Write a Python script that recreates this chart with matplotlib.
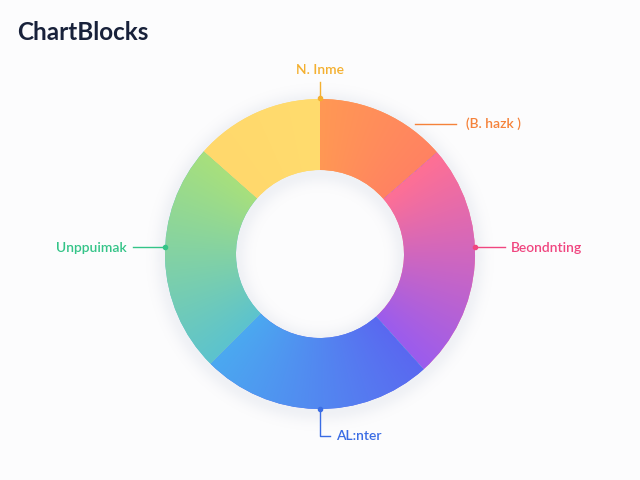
# Кольцевая диаграмма с градиентной заливкой сегментов

import numpy as np
import matplotlib.pyplot as plt
from matplotlib.colors import to_rgb

plt.rcParams['font.family'] = ['Lato', 'DejaVu Sans']

# Данные: сегменты по часовой стрелке, начиная сверху
segments = ['(B. hazk )', 'Beondnting', 'AL:nter', 'Unppuimak', 'N. Inme']
values = [49, 89, 87, 86.5, 48.5]
grad_start = ['#FF9854', '#FF7094', '#5A68F0', '#5CC3CE', '#FFD86C']
grad_end = ['#FF8262', '#9A5CEE', '#4BA9F0', '#A8E07C', '#FFDC6E']
label_colors = ['#F5823A', '#F04680', '#3A6CE4', '#34C488', '#F4B030']

W, H = 640, 480
CX, CY, R = 320, 254, 155
INNER = 84 / R


def px(x, y):
    """Пиксели картинки -> координаты осей (радиус кольца = 1)."""
    return (x - CX) / R, (CY - y) / R


fig = plt.figure(figsize=(6.4, 4.8), dpi=100)
fig.patch.set_facecolor('#FCFCFD')
ax = fig.add_axes([0, 0, 1, 1])

# Мягкая тень вокруг кольца
g = np.linspace(-1.4, 1.4, 500)
gx, gy = np.meshgrid(g, g)
rr = np.hypot(gx, gy)
d = np.where(rr > 1, rr - 1, np.where(rr < INNER, INNER - rr, 0))
shadow = np.zeros(gx.shape + (4,))
shadow[..., :3] = to_rgb('#8090B0')
shadow[..., 3] = 0.10 * np.exp(-(d / 0.07) ** 2)
ax.imshow(shadow, extent=(-1.4, 1.4, -1.4 - 0.02, 1.4 - 0.02), origin='lower', zorder=0)

wedges, _ = ax.pie(values, startangle=90, counterclock=False, radius=1,
                   colors=grad_start,
                   wedgeprops=dict(width=1 - INNER, edgecolor='none'))

# Градиент по углу внутри каждого сегмента
n = 400
lin = np.linspace(-1, 1, n)
X, Y = np.meshgrid(lin, lin)
ang = np.degrees(np.arctan2(Y, X)) % 360
for w, c0, c1 in zip(wedges, grad_start, grad_end):
    span = (w.theta2 - w.theta1)
    # по часовой стрелке: начало сегмента = theta2
    t = ((w.theta2 % 360 - ang) % 360) / span
    t = np.clip(t, 0, 1)[..., None]
    img = (1 - t) * np.array(to_rgb(c0)) + t * np.array(to_rgb(c1))
    im = ax.imshow(img, extent=(-1, 1, -1, 1), origin='lower', zorder=2,
                   interpolation='bilinear')
    im.set_clip_path(w)
    w.set_zorder(1)

# Подписи с выносками
lw = 1.0
fs = 10
fw = 'semibold'

# верх
c = label_colors[4]
ax.plot(*zip(px(320, 82), px(320, 98)), color=c, lw=lw, zorder=3)
ax.plot(*px(320, 98), 'o', color=c, ms=3, zorder=3)
ax.text(*px(320, 70), segments[4], color=c, fontsize=fs, fontweight=fw,
        ha='center', va='center')

# справа сверху
c = label_colors[0]
ax.plot(*zip(px(415, 124), px(456, 124)), color=c, lw=lw, zorder=3)
ax.text(*px(466, 124), segments[0], color=c, fontsize=fs, fontweight=fw,
        ha='left', va='center')

# справа
c = label_colors[1]
ax.plot(*zip(px(475, 247), px(505, 247)), color=c, lw=lw, zorder=3)
ax.plot(*px(475, 247), 'o', color=c, ms=3, zorder=3)
ax.text(*px(511, 248), segments[1], color=c, fontsize=fs, fontweight=fw,
        ha='left', va='center')

# снизу
c = label_colors[2]
ax.plot(*zip(px(320, 409), px(320, 436), px(330, 436)), color=c, lw=lw, zorder=3)
ax.plot(*px(320, 409), 'o', color=c, ms=3, zorder=3)
ax.text(*px(336, 436), segments[2], color=c, fontsize=fs, fontweight=fw,
        ha='left', va='center')

# слева
c = label_colors[3]
ax.plot(*zip(px(133, 247), px(165, 247)), color=c, lw=lw, zorder=3)
ax.plot(*px(165, 247), 'o', color=c, ms=3, zorder=3)
ax.text(*px(127, 248), segments[3], color=c, fontsize=fs, fontweight=fw,
        ha='right', va='center')

# Пределы осей задаём в конце: pie и imshow их перезаписывают
ax.set_xlim(-CX / R, (W - CX) / R)
ax.set_ylim(-(H - CY) / R, CY / R)
ax.set_aspect('equal')
ax.axis('off')

# Заголовок
fig.text(17 / W, 1 - 32 / H, 'ChartBlocks', color='#18213A', fontsize=17.5,
         fontweight='bold', ha='left', va='center')

fig.savefig('out.png', dpi=100, facecolor=fig.get_facecolor())
